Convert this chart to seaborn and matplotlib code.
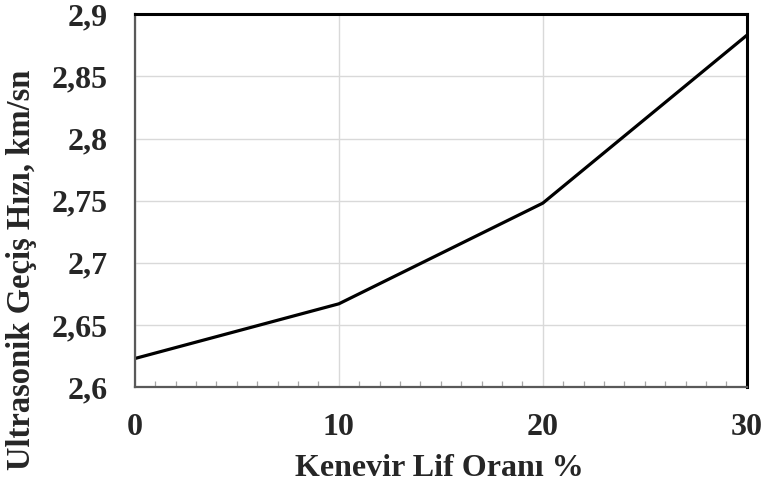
import seaborn as sns
import matplotlib.pyplot as plt
import matplotlib.ticker as mticker
import pandas as pd

# Values
lif_orani = [0, 10, 20, 30]
gecis_hizi = [2.623, 2.667, 2.748, 2.883]
y_ticks = [2.6, 2.65, 2.7, 2.75, 2.8, 2.85, 2.9]
x_ticks = [0, 10, 20, 30]

df = pd.DataFrame({'lif': lif_orani, 'hiz': gecis_hizi})

sns.set_style("whitegrid")
plt.rcParams['font.family'] = ['Liberation Serif', 'DejaVu Serif']
plt.rcParams['font.weight'] = 'bold'

fig = plt.figure(figsize=(7.62, 4.90), dpi=100)
ax = fig.add_axes([0.177, 0.210, 0.803, 0.761])

sns.lineplot(data=df, x='lif', y='hiz', color='black', linewidth=2.3, ax=ax)

ax.set_xlim(0, 30)
ax.set_ylim(2.6, 2.9)
ax.set_xticks(x_ticks)
ax.set_yticks(y_ticks)
ax.yaxis.set_major_formatter(mticker.FuncFormatter(lambda v, p: f"{v:g}".replace('.', ',')))
ax.xaxis.set_minor_locator(mticker.MultipleLocator(1))

ax.grid(True, which='major', color='#d9d9d9', linewidth=1.0)
ax.tick_params(axis='both', which='major', length=0, labelsize=23)
ax.tick_params(axis='x', which='major', pad=19)
ax.tick_params(axis='y', which='major', pad=19.5)
ax.tick_params(axis='x', which='minor', bottom=True, direction='in', length=4.5,
               width=0.9, color='#a6a6a6')

for lab in ax.get_xticklabels() + ax.get_yticklabels():
    lab.set_fontweight('bold')

ax.set_xlabel('Kenevir Lif Oranı %', fontsize=23, fontweight='bold')
ax.set_ylabel('Ultrasonik Geçiş Hızı, km/sn', fontsize=23.5, fontweight='bold')
ax.xaxis.set_label_coords(0.498, -0.18)
ax.yaxis.set_label_coords(-0.160, 0.314)

for side in ['top', 'right']:
    ax.spines[side].set_color('black')
    ax.spines[side].set_linewidth(2.2)
for side in ['left', 'bottom']:
    ax.spines[side].set_color('#595959')
    ax.spines[side].set_linewidth(1.6)

fig.savefig('out.png', dpi=100, facecolor='white')
